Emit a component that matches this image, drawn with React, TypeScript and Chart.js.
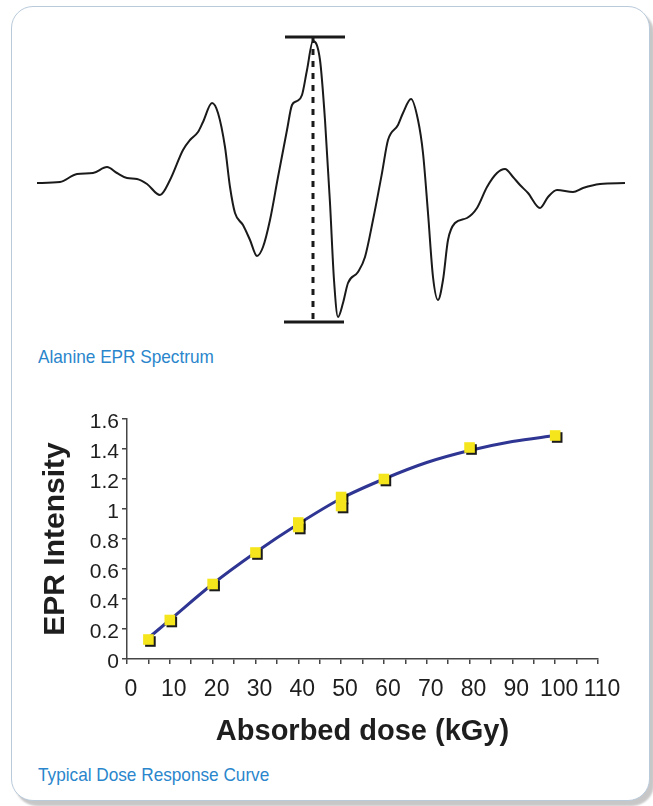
import React, { useEffect, useRef } from 'react';
import { Chart, registerables } from 'chart.js';

Chart.register(...registerables);

// ---------- Alanine EPR spectrum (arbitrary field / signal units) ----------
const spectrumField = [
  0, 23, 40, 56, 70, 80, 90, 100, 110, 123, 133, 146, 153, 161, 166, 175, 181, 188, 193, 198,
  206, 213, 220, 226, 233, 241, 250, 255, 260, 265, 270, 276, 283, 288, 293, 297, 301, 306, 311, 321,
  328, 336, 345, 351, 361, 366, 374, 381, 386, 391, 396, 401, 406, 411, 418, 430, 440, 450, 460, 468,
  476, 483, 491, 503, 511, 520, 536, 546, 563, 588,
];
const spectrumSignal = [
  0, 1, 9, 10, 16, 10, 5, 4, -1, -12, 3, 33, 43, 51, 61, 80, 70, 36, -4, -30,
  -42, -57, -73, -64, -37, 6, 53, 78, 82, 88, 113, 142, 123, 63, -20, -97, -134, -120, -100, -89,
  -74, -37, 10, 43, 58, 70, 84, 63, 30, -30, -94, -117, -97, -57, -40, -35, -25, -4, 10, 14,
  6, -2, -10, -25, -14, -7, -9, -5, -1, 0,
];
const peakField = 276;
const peakLevel = 146;
const troughLevel = -139;
const peakBarField = [248, 308];
const troughBarField = [247, 307];

// ---------- Dose response ----------
const doseKGy = [5, 10, 20, 30, 40, 40, 50, 50, 60, 80, 100];
const eprIntensity = [0.13, 0.26, 0.5, 0.71, 0.91, 0.88, 1.08, 1.02, 1.2, 1.41, 1.49];
const fitDose = [5, 10, 20, 30, 40, 50, 60, 70, 80, 90, 100];
const fitIntensity = [0.14, 0.26, 0.5, 0.71, 0.9, 1.07, 1.2, 1.31, 1.39, 1.45, 1.49];
const doseTickLabels = ['0', '10', '20', '30', '40', '50', '60', '70', '80', '90', '100', '110'];
const intensityTickLabels = ['0', '0.2', '0.4', '0.6', '0.8', '1', '1.2', '1.4', '1.6'];

const SANS = "'Liberation Sans', Arial, Helvetica, sans-serif";

function SpectrumChart() {
  const ref = useRef<HTMLCanvasElement | null>(null);
  useEffect(() => {
    const canvas = ref.current!;
    const ink = '#1a1a1a';
    const chart = new Chart(canvas, {
      type: 'scatter',
      data: {
        datasets: [
          {
            data: spectrumField.map((x, i) => ({ x, y: spectrumSignal[i] })),
            showLine: true,
            borderColor: ink,
            borderWidth: 2,
            pointRadius: 0,
            cubicInterpolationMode: 'monotone',
          },
          {
            data: [
              { x: peakField, y: peakLevel },
              { x: peakField, y: troughLevel },
            ],
            showLine: true,
            borderColor: ink,
            borderWidth: 3,
            borderDash: [6, 6],
            pointRadius: 0,
          },
          {
            data: peakBarField.map((x) => ({ x, y: peakLevel })),
            showLine: true,
            borderColor: ink,
            borderWidth: 3,
            pointRadius: 0,
          },
          {
            data: troughBarField.map((x) => ({ x, y: troughLevel })),
            showLine: true,
            borderColor: ink,
            borderWidth: 3,
            pointRadius: 0,
          },
        ],
      },
      options: {
        responsive: false,
        animation: false,
        devicePixelRatio: 1,
        events: [],
        layout: { padding: 0 },
        plugins: { legend: { display: false }, tooltip: { enabled: false } },
        scales: {
          x: { type: 'linear', display: false, min: -10, max: 600 },
          y: { type: 'linear', display: false, min: -150, max: 156 },
        },
      },
    });
    return () => chart.destroy();
  }, []);
  return (
    <canvas
      ref={ref}
      width={610}
      height={306}
      style={{ position: 'absolute', left: 27, top: 27, width: 610, height: 306 }}
    />
  );
}

const markerShadow = {
  id: 'markerShadow',
  beforeDatasetDraw(chart: any, args: any) {
    if (args.index !== 0) return;
    const ctx = chart.ctx;
    ctx.save();
    ctx.shadowColor = 'rgba(15,15,15,0.95)';
    ctx.shadowOffsetX = 2;
    ctx.shadowOffsetY = 2;
    ctx.shadowBlur = 0;
  },
  afterDatasetDraw(chart: any, args: any) {
    if (args.index !== 0) return;
    chart.ctx.restore();
  },
};

function DoseChart() {
  const ref = useRef<HTMLCanvasElement | null>(null);
  useEffect(() => {
    const canvas = ref.current!;
    const axisColor = '#454545';
    const textColor = '#1e1e1e';
    const chart = new Chart(canvas, {
      type: 'scatter',
      data: {
        datasets: [
          {
            data: doseKGy.map((x, i) => ({ x, y: eprIntensity[i] })),
            pointStyle: 'rect',
            pointRadius: 7.5,
            backgroundColor: '#f5e51c',
            borderWidth: 0,
            order: 1,
          },
          {
            data: fitDose.map((x, i) => ({ x, y: fitIntensity[i] })),
            showLine: true,
            borderColor: '#2e3592',
            borderWidth: 3,
            pointRadius: 0,
            cubicInterpolationMode: 'monotone',
            order: 2,
          },
        ],
      },
      options: {
        responsive: false,
        animation: false,
        devicePixelRatio: 1,
        events: [],
        layout: { padding: { left: 0, top: 19, right: 42, bottom: 0 } },
        plugins: { legend: { display: false }, tooltip: { enabled: false } },
        scales: {
          x: {
            type: 'linear',
            position: 'bottom',
            min: 0,
            max: 110,
            afterFit: (s: any) => {
              s.height = 91;
            },
            ticks: {
              stepSize: 5,
              autoSkip: false,
              maxRotation: 0,
              minRotation: 0,
              padding: 12,
              labelOffset: 4,
              color: textColor,
              font: { family: SANS, size: 23 },
              callback: (v: any) => {
                const s = String(Math.round(Number(v)));
                return doseTickLabels.includes(s) ? s : '';
              },
            },
            grid: {
              drawOnChartArea: false,
              drawTicks: true,
              tickLength: 5,
              color: axisColor,
              lineWidth: 1.5,
            },
            border: { display: true, color: axisColor, width: 1.5 },
            title: {
              display: true,
              text: 'Absorbed dose (kGy)',
              color: textColor,
              font: { family: SANS, size: 29, weight: 'bold' },
              padding: { top: 0, bottom: 1 },
            },
          },
          y: {
            type: 'linear',
            min: 0,
            max: 1.6,
            afterFit: (s: any) => {
              s.width = 107;
            },
            ticks: {
              stepSize: 0.2,
              padding: 3,
              labelOffset: 3,
              color: textColor,
              font: { family: SANS, size: 21 },
              callback: (v: any) => {
                const s = String(Number(Number(v).toFixed(1)));
                return intensityTickLabels.includes(s) ? s : '';
              },
            },
            grid: {
              drawOnChartArea: false,
              drawTicks: true,
              tickLength: 5,
              color: axisColor,
              lineWidth: 1.5,
            },
            border: { display: true, color: axisColor, width: 1.5 },
            title: {
              display: true,
              text: 'EPR Intensity',
              color: textColor,
              font: { family: SANS, size: 30, weight: 'bold' },
              padding: { top: 18, bottom: 0 },
            },
          },
        },
      },
      plugins: [markerShadow],
    });
    return () => chart.destroy();
  }, []);
  return (
    <canvas
      ref={ref}
      width={620}
      height={350}
      style={{ position: 'absolute', left: 20, top: 400, width: 620, height: 350 }}
    />
  );
}

const captionStyle: React.CSSProperties = {
  position: 'absolute',
  left: 38,
  fontFamily: SANS,
  fontSize: 19,
  lineHeight: '20px',
  color: '#2a86cc',
  whiteSpace: 'nowrap',
  transform: 'scaleX(0.905)',
  transformOrigin: '0 0',
};

export default function App() {
  return (
    <div
      style={{
        position: 'absolute',
        left: 0,
        top: 0,
        width: 653,
        height: 806,
        background: '#ffffff',
        overflow: 'hidden',
      }}
    >
      <div
        style={{
          position: 'absolute',
          left: 11,
          top: 6,
          width: 639,
          height: 795,
          boxSizing: 'border-box',
          border: '1.5px solid #b9cadb',
          borderRadius: 22,
          background: '#ffffff',
          boxShadow: '4px 5px 2px rgba(0,0,0,0.22)',
        }}
      />
      <SpectrumChart />
      <div style={{ ...captionStyle, top: 347 }}>Alanine EPR Spectrum</div>
      <DoseChart />
      <div style={{ ...captionStyle, top: 765 }}>Typical Dose Response Curve</div>
    </div>
  );
}
